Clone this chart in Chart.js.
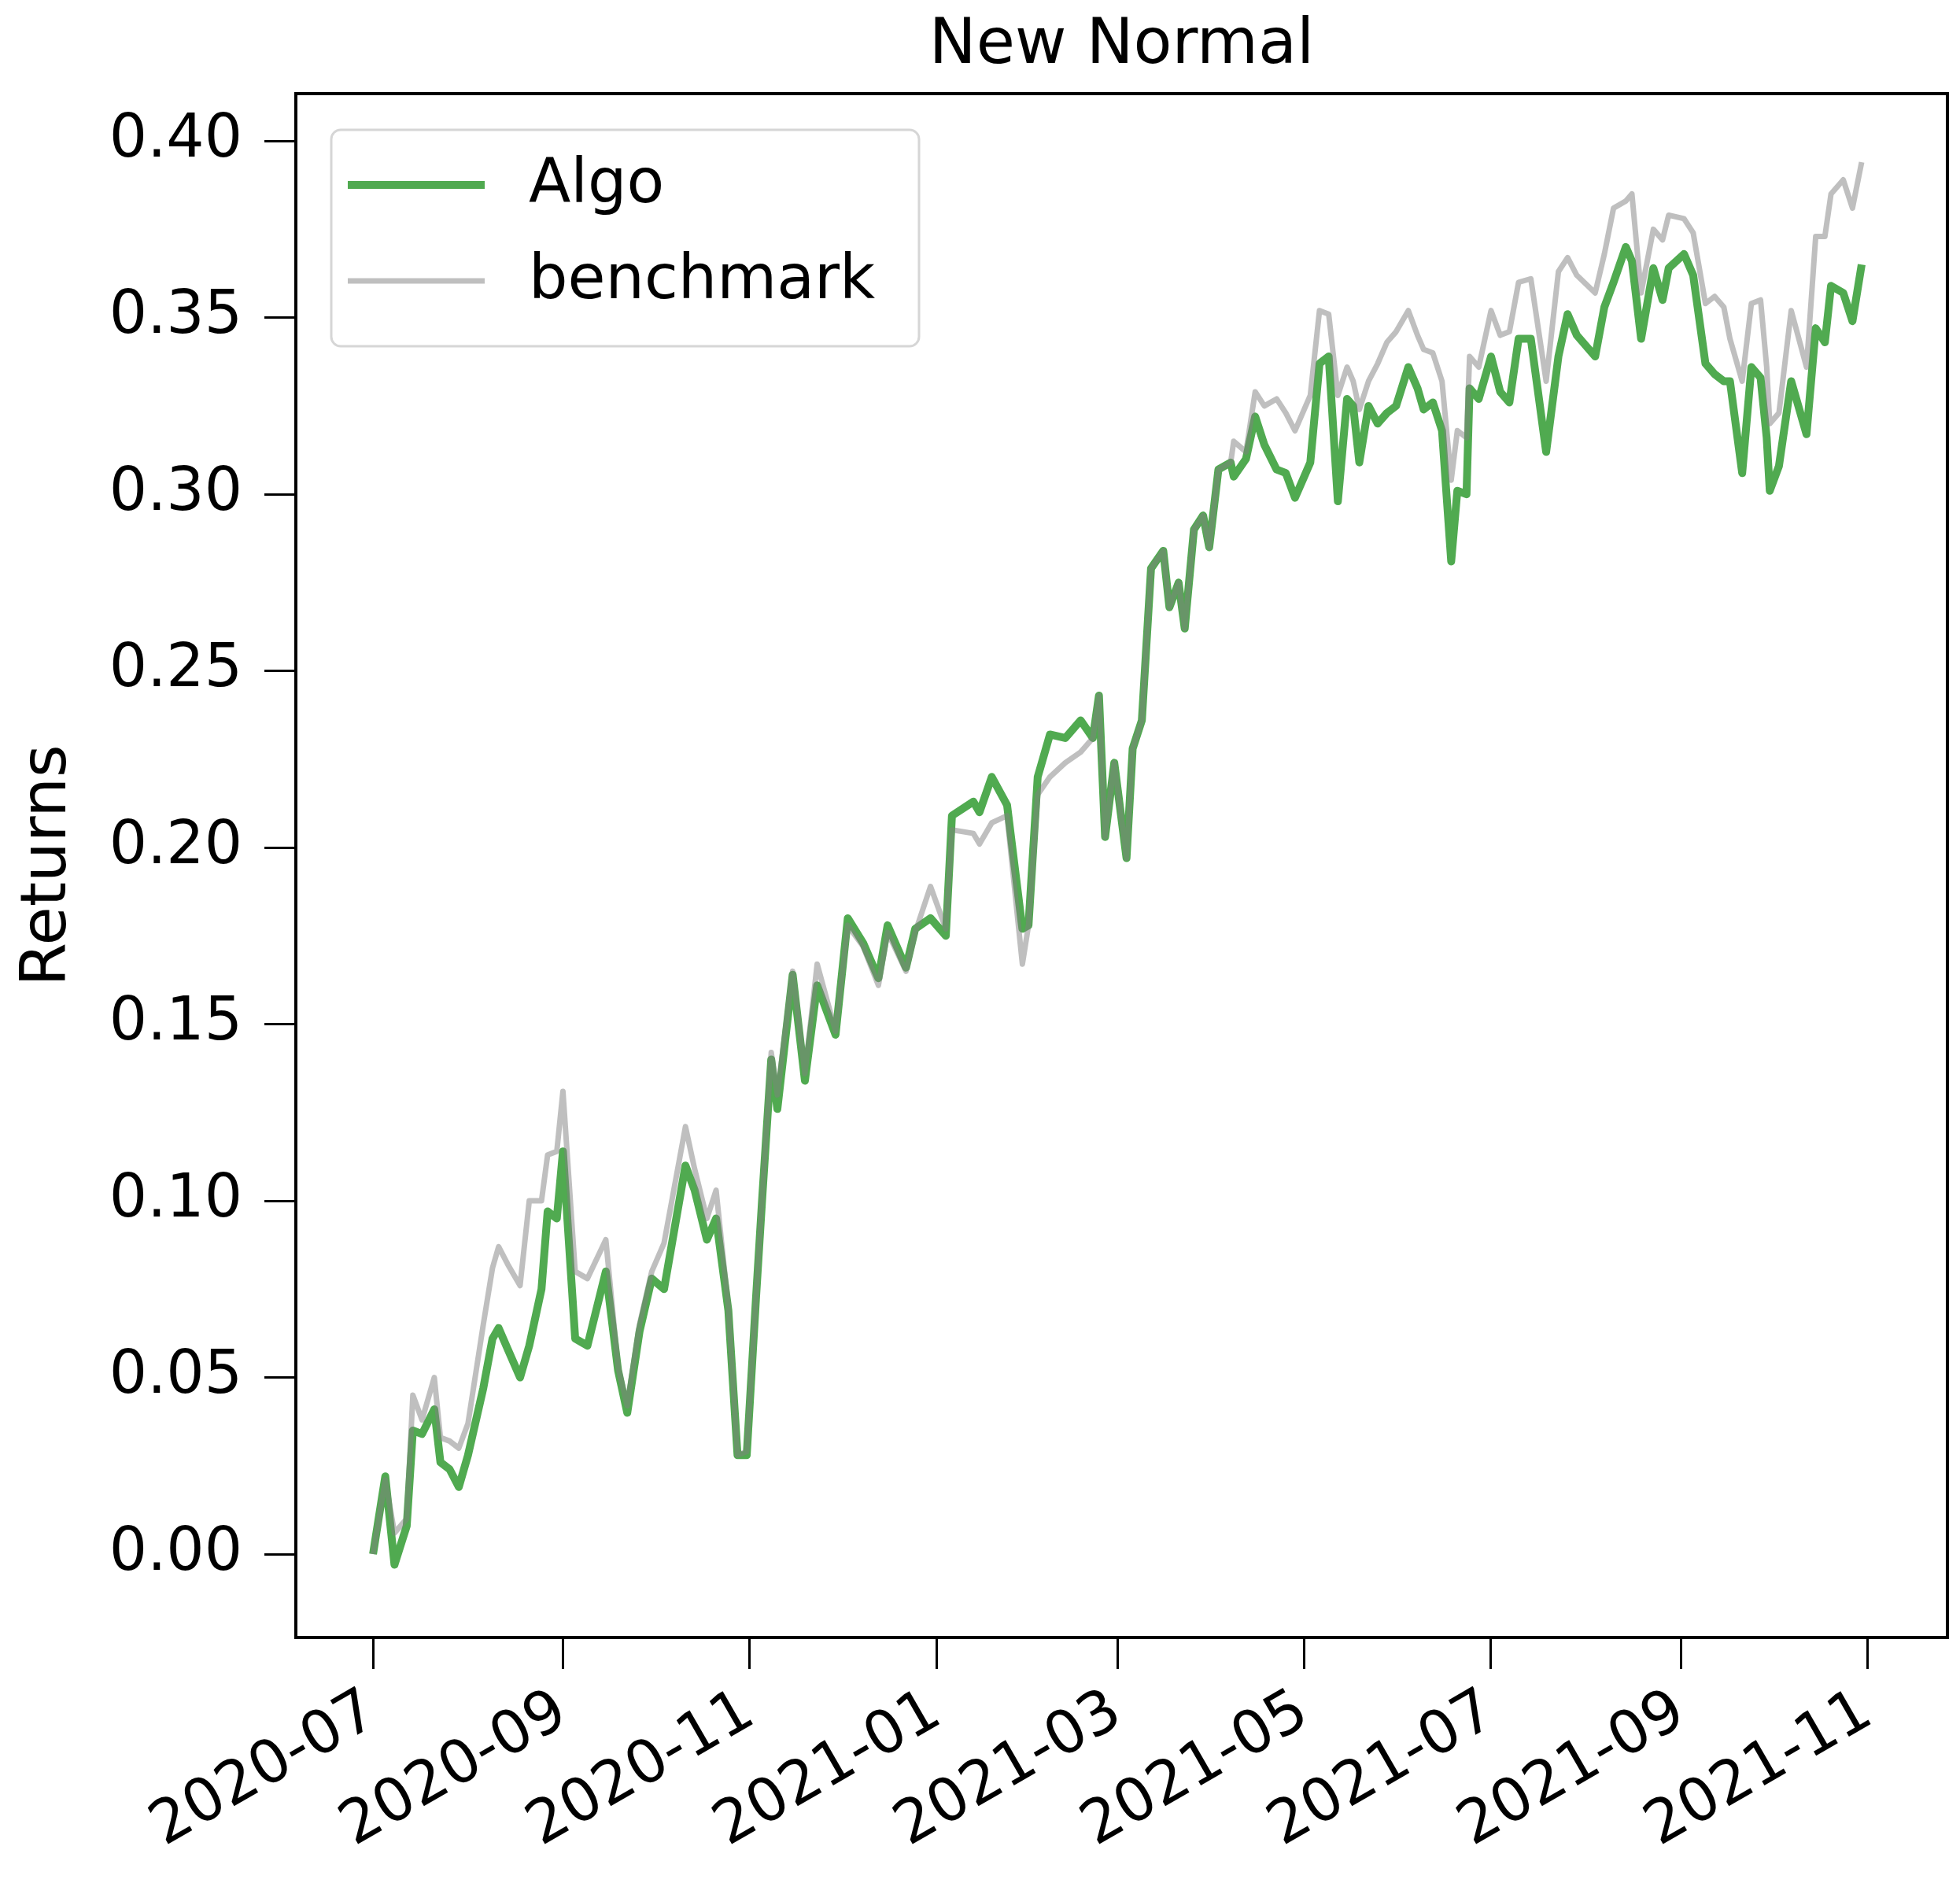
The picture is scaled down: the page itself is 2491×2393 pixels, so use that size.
<!DOCTYPE html>
<html>
<head>
<meta charset="utf-8">
<title>New Normal</title>
<script src="https://cdn.jsdelivr.net/npm/chart.js@4.4.1/dist/chart.umd.min.js"></script>
<style>
  html, body { margin: 0; padding: 0; background: #ffffff; }
  #wrap { width: 2491px; height: 2393px; }
</style>
</head>
<body>
<div id="wrap"><canvas id="returnsChart" width="2491" height="2393"></canvas></div>
<script>
var dates = [
  '2020-07-01','2020-07-05','2020-07-08','2020-07-12','2020-07-14','2020-07-17','2020-07-21','2020-07-23','2020-07-26','2020-07-29',
  '2020-08-01','2020-08-06','2020-08-09','2020-08-11','2020-08-14','2020-08-18','2020-08-21','2020-08-25','2020-08-27','2020-08-30',
  '2020-09-01','2020-09-05','2020-09-09','2020-09-15','2020-09-19','2020-09-22','2020-09-26','2020-09-30',
  '2020-10-04','2020-10-11','2020-10-14','2020-10-18','2020-10-21','2020-10-25','2020-10-28','2020-10-31',
  '2020-11-03','2020-11-05','2020-11-08','2020-11-10','2020-11-15','2020-11-19','2020-11-23','2020-11-29',
  '2020-12-03','2020-12-08','2020-12-13','2020-12-16','2020-12-22','2020-12-25','2020-12-30',
  '2021-01-04','2021-01-06','2021-01-13','2021-01-15','2021-01-19','2021-01-24','2021-01-29','2021-01-31',
  '2021-02-03','2021-02-07','2021-02-12','2021-02-17','2021-02-21','2021-02-23','2021-02-25','2021-02-28',
  '2021-03-04','2021-03-06','2021-03-09','2021-03-12','2021-03-16','2021-03-18','2021-03-21','2021-03-23','2021-03-26','2021-03-29','2021-03-31',
  '2021-04-03','2021-04-07','2021-04-08','2021-04-12','2021-04-15','2021-04-18','2021-04-22','2021-04-25','2021-04-28',
  '2021-05-01','2021-05-03','2021-05-06','2021-05-09','2021-05-12','2021-05-15','2021-05-17','2021-05-19','2021-05-22','2021-05-25','2021-05-28','2021-05-31',
  '2021-06-04','2021-06-07','2021-06-09','2021-06-12','2021-06-15','2021-06-18','2021-06-20','2021-06-23','2021-06-24','2021-06-27',
  '2021-07-01','2021-07-04','2021-07-07','2021-07-10','2021-07-14','2021-07-19','2021-07-23','2021-07-26','2021-07-29',
  '2021-08-04','2021-08-07','2021-08-10','2021-08-14','2021-08-16','2021-08-19','2021-08-23','2021-08-26','2021-08-28',
  '2021-09-02','2021-09-05','2021-09-09','2021-09-12','2021-09-15','2021-09-17','2021-09-21','2021-09-24','2021-09-27','2021-09-29','2021-09-30',
  '2021-10-03','2021-10-07','2021-10-12','2021-10-15','2021-10-18','2021-10-20','2021-10-24','2021-10-27','2021-10-30'
];

var algo = [
  0.000, 0.022, -0.003, 0.008, 0.035, 0.034, 0.041, 0.026, 0.024, 0.019,
  0.028, 0.047, 0.061, 0.064, 0.058, 0.050, 0.059, 0.075, 0.097, 0.095,
  0.114, 0.061, 0.059, 0.080, 0.052, 0.040, 0.063, 0.078,
  0.075, 0.110, 0.103, 0.089, 0.095, 0.069, 0.028, 0.028,
  0.072, 0.100, 0.140, 0.126, 0.164, 0.134, 0.161, 0.147,
  0.180, 0.173, 0.163, 0.178, 0.166, 0.177, 0.180,
  0.175, 0.209, 0.213, 0.210, 0.220, 0.212, 0.177, 0.178,
  0.220, 0.232, 0.231, 0.236, 0.231, 0.243, 0.203, 0.224,
  0.197, 0.228, 0.236, 0.279, 0.284, 0.268, 0.275, 0.262, 0.290, 0.294, 0.285,
  0.307, 0.309, 0.305, 0.310, 0.322, 0.314, 0.307, 0.306, 0.299,
  0.305, 0.309, 0.337, 0.339, 0.298, 0.327, 0.325, 0.309, 0.325, 0.320, 0.323, 0.325,
  0.336, 0.330, 0.324, 0.326, 0.318, 0.281, 0.301, 0.300, 0.330, 0.327,
  0.339, 0.329, 0.326, 0.344, 0.344, 0.312, 0.339, 0.351, 0.345,
  0.339, 0.353, 0.360, 0.370, 0.366, 0.344, 0.364, 0.355, 0.364,
  0.368, 0.362, 0.337, 0.334, 0.332, 0.332, 0.306, 0.336, 0.333, 0.316, 0.301,
  0.308, 0.332, 0.317, 0.347, 0.343, 0.359, 0.357, 0.349, 0.365
];

var benchmark = [
  0.000, 0.021, 0.006, 0.010, 0.045, 0.038, 0.050, 0.033, 0.032, 0.030,
  0.037, 0.065, 0.081, 0.087, 0.082, 0.076, 0.100, 0.100, 0.113, 0.114,
  0.131, 0.080, 0.078, 0.089, 0.053, 0.042, 0.065, 0.080,
  0.088, 0.121, 0.109, 0.095, 0.103, 0.070, 0.028, 0.029,
  0.072, 0.100, 0.142, 0.130, 0.165, 0.136, 0.167, 0.148,
  0.178, 0.172, 0.161, 0.176, 0.165, 0.176, 0.189,
  0.177, 0.205, 0.204, 0.201, 0.207, 0.209, 0.167, 0.178,
  0.215, 0.220, 0.224, 0.227, 0.231, 0.243, 0.203, 0.224,
  0.197, 0.228, 0.236, 0.279, 0.284, 0.268, 0.275, 0.262, 0.290, 0.294, 0.285,
  0.307, 0.309, 0.315, 0.312, 0.329, 0.325, 0.327, 0.323, 0.318,
  0.324, 0.328, 0.352, 0.351, 0.328, 0.336, 0.332, 0.324, 0.332, 0.337, 0.343, 0.346,
  0.352, 0.345, 0.341, 0.340, 0.332, 0.304, 0.318, 0.316, 0.339, 0.336,
  0.352, 0.345, 0.346, 0.360, 0.361, 0.332, 0.363, 0.367, 0.362,
  0.357, 0.368, 0.381, 0.383, 0.385, 0.357, 0.375, 0.372, 0.379,
  0.378, 0.374, 0.354, 0.356, 0.353, 0.344, 0.332, 0.354, 0.355, 0.336, 0.320,
  0.323, 0.352, 0.336, 0.373, 0.373, 0.385, 0.389, 0.381, 0.394
];

var xTicks = ['2020-07', '2020-09', '2020-11', '2021-01', '2021-03', '2021-05', '2021-07', '2021-09', '2021-11'];
var yTicks = [0.00, 0.05, 0.10, 0.15, 0.20, 0.25, 0.30, 0.35, 0.40];

var DAY = 86400000;
var t0 = Date.parse('2020-07-01');

Chart.defaults.font.family = '"DejaVu Sans", sans-serif';
Chart.defaults.color = '#000000';

// frame round the axes, like the four spines
var framePlugin = {
  id: 'frame',
  afterDraw: function(chart) {
    var ctx = chart.ctx, a = chart.chartArea;
    ctx.save();
    ctx.strokeStyle = '#000000';
    ctx.lineWidth = 4;
    ctx.strokeRect(a.left, a.top, a.right - a.left, a.bottom - a.top);
    ctx.restore();
  }
};

// legend box in the upper left corner of the axes
var boxLegend = {
  id: 'boxLegend',
  afterDatasetsDraw: function(chart) {
    var ctx = chart.ctx, a = chart.chartArea;
    var x = a.left + 45, y = a.top + 46, w = 747, h = 275, r = 12;
    ctx.save();
    ctx.beginPath();
    ctx.moveTo(x + r, y);
    ctx.arcTo(x + w, y, x + w, y + h, r);
    ctx.arcTo(x + w, y + h, x, y + h, r);
    ctx.arcTo(x, y + h, x, y, r);
    ctx.arcTo(x, y, x + w, y, r);
    ctx.closePath();
    ctx.fillStyle = 'rgba(255,255,255,0.8)';
    ctx.fill();
    ctx.strokeStyle = '#d6d6d6';
    ctx.lineWidth = 3;
    ctx.stroke();

    var rows = [70, 192];
    var items = [chart.data.datasets[0], chart.data.datasets[1]];
    ctx.font = '78px "DejaVu Sans"';
    ctx.textBaseline = 'middle';
    ctx.textAlign = 'left';
    items.forEach(function(ds, i) {
      var ry = y + rows[i];
      ctx.beginPath();
      ctx.moveTo(x + 21, ry);
      ctx.lineTo(x + 195, ry);
      ctx.strokeStyle = ds.borderColor;
      ctx.lineWidth = ds.borderWidth;
      ctx.stroke();
      ctx.fillStyle = '#000000';
      ctx.fillText(ds.label, x + 251, ry + 2);
    });
    ctx.restore();
  }
};

var ctx = document.getElementById('returnsChart').getContext('2d');
var returnsChart = new Chart(ctx, {
  type: 'line',
  data: {
    datasets: [{
      label: 'Algo',
      data: dates.map(function(d, i) { return { x: Date.parse(d), y: algo[i] }; }),
      borderColor: 'rgb(80, 170, 80)',
      borderWidth: 10,
      pointRadius: 0,
      tension: 0,
      borderJoinStyle: 'round',
      order: 2
    }, {
      label: 'benchmark',
      data: dates.map(function(d, i) { return { x: Date.parse(d), y: benchmark[i] }; }),
      borderColor: 'rgba(128, 128, 128, 0.5)',
      borderWidth: 7,
      pointRadius: 0,
      tension: 0,
      borderJoinStyle: 'round',
      order: 1
    }]
  },
  options: {
    responsive: false,
    animation: false,
    devicePixelRatio: 1,
    layout: { padding: { left: 0, right: 16, top: 0, bottom: 0 } },
    plugins: {
      legend: { display: false },
      tooltip: { enabled: false },
      title: {
        display: true,
        text: 'New Normal',
        fullSize: false,
        color: '#000000',
        font: { size: 80, weight: 'normal' },
        padding: { top: 11, bottom: 12 }
      }
    },
    scales: {
      x: {
        type: 'linear',
        min: t0 - 25.2 * DAY,
        max: t0 + 514 * DAY,
        afterBuildTicks: function(scale) {
          scale.ticks = xTicks.map(function(t) { return { value: Date.parse(t + '-01') }; });
        },
        afterFit: function(scale) { scale.height = 312; },
        ticks: {
          autoSkip: false,
          minRotation: 30,
          maxRotation: 30,
          padding: 10,
          color: '#000000',
          font: { size: 76 },
          callback: function(v) { return new Date(v).toISOString().slice(0, 7); }
        },
        grid: {
          display: true,
          drawOnChartArea: false,
          drawTicks: true,
          tickLength: 40,
          tickWidth: 3,
          tickColor: '#000000'
        },
        border: { display: false }
      },
      y: {
        type: 'linear',
        min: -0.0236,
        max: 0.4134,
        afterBuildTicks: function(scale) {
          scale.ticks = yTicks.map(function(v) { return { value: v }; });
        },
        afterFit: function(scale) { scale.width = 376; },
        ticks: {
          padding: 28,
          color: '#000000',
          font: { size: 76 },
          callback: function(v) { return v.toFixed(2); }
        },
        grid: {
          display: true,
          drawOnChartArea: false,
          drawTicks: true,
          tickLength: 40,
          tickWidth: 3,
          tickColor: '#000000'
        },
        border: { display: false },
        title: {
          display: true,
          text: 'Returns',
          color: '#000000',
          font: { size: 80 },
          padding: { top: 14, bottom: 0 }
        }
      }
    }
  },
  plugins: [framePlugin, boxLegend]
});
</script>
</body>
</html>
